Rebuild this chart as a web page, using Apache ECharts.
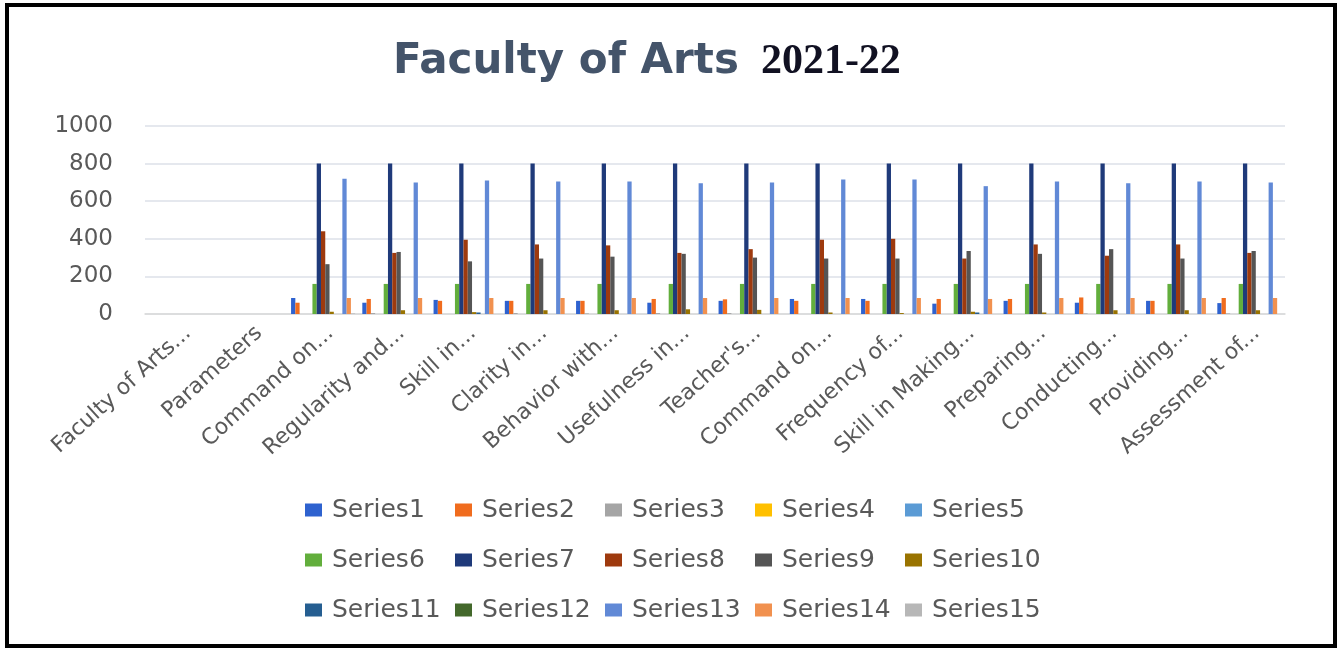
<!DOCTYPE html>
<html>
<head>
    <meta charset="utf-8">
    <title>Faculty of Arts 2021-22</title>
    <script src="https://cdn.jsdelivr.net/npm/echarts@6/dist/echarts.min.js"></script>
    <style>
        body { margin: 0; background: #fff; }
        #frame { position: absolute; left: 5px; top: 3px; width: 1324px; height: 637px; border: 4px solid #000; }
        #main { position: absolute; left: 0; top: 0; width: 1341px; height: 648px; }
    </style>
</head>
<body>
    <div id="frame"></div>
    <div id="main"></div>
    <script type="text/javascript">
// categories (truncated as in the source chart)
var categories = ['Faculty of Arts...', 'Parameters', 'Command on...', 'Regularity and...', 'Skill in...',
    'Clarity in...', 'Behavior with...', 'Usefulness in...', "Teacher's...", 'Command on...',
    'Frequency of...', 'Skill in Making...', 'Preparing...', 'Conducting...', 'Providing...', 'Assessment of...'];

var yTicks = [0, 200, 400, 600, 800, 1000];

// series values, one per category
var series1  = [0, 0, 85, 60, 75, 70, 70, 60, 70, 80, 80, 55, 70, 60, 70, 58];
var series2  = [0, 0, 60, 80, 70, 70, 70, 80, 78, 70, 70, 80, 80, 88, 70, 85];
var series3  = [0, 0, 0, 5, 0, 5, 3, 5, 5, 0, 0, 0, 0, 3, 0, 3];
var series4  = [0, 0, 0, 0, 0, 0, 0, 0, 0, 0, 0, 0, 0, 0, 0, 0];
var series5  = [0, 0, 0, 0, 0, 0, 0, 0, 0, 0, 0, 0, 0, 0, 0, 0];
var series6  = [0, 0, 160, 160, 160, 160, 160, 160, 160, 160, 160, 160, 160, 160, 160, 160];
var series7  = [0, 0, 800, 800, 800, 800, 800, 800, 800, 800, 800, 800, 800, 800, 800, 800];
var series8  = [0, 0, 440, 325, 395, 370, 365, 325, 345, 395, 400, 295, 370, 310, 370, 325];
var series9  = [0, 0, 265, 330, 280, 295, 305, 320, 300, 295, 295, 335, 320, 345, 295, 335];
var series10 = [0, 0, 12, 20, 10, 20, 20, 25, 22, 8, 5, 12, 8, 20, 20, 20];
var series11 = [0, 0, 0, 0, 8, 0, 0, 0, 0, 0, 0, 8, 0, 0, 0, 0];
var series12 = [0, 0, 0, 0, 0, 0, 0, 0, 0, 0, 0, 0, 0, 0, 0, 0];
var series13 = [0, 0, 720, 700, 710, 705, 705, 695, 700, 715, 715, 680, 705, 695, 705, 700];
var series14 = [0, 0, 85, 85, 85, 85, 85, 85, 85, 85, 85, 80, 85, 85, 85, 85];
var series15 = [0, 0, 3, 0, 0, 0, 0, 0, 0, 0, 0, 0, 0, 0, 0, 0];

var seriesNames = ['Series1', 'Series2', 'Series3', 'Series4', 'Series5', 'Series6', 'Series7', 'Series8',
    'Series9', 'Series10', 'Series11', 'Series12', 'Series13', 'Series14', 'Series15'];
var seriesValues = [series1, series2, series3, series4, series5, series6, series7, series8,
    series9, series10, series11, series12, series13, series14, series15];
var colors = ['#2E62CF', '#F06C1E', '#A5A5A5', '#FFC000', '#5B9BD5', '#62AE3C', '#1F3A7A', '#9E3A0E',
    '#555555', '#997300', '#255E91', '#43682B', '#6189D6', '#F1914F', '#B7B7B7'];

var myChart = echarts.init(document.getElementById('main'));

var font = 'DejaVu Sans';
var grey = '#595959';

function legendRow(names, top) {
    return {
        data: names,
        left: 305,
        top: top,
        padding: 0,
        orient: 'horizontal',
        icon: 'rect',
        itemWidth: 17,
        itemHeight: 13,
        itemGap: 0,
        textStyle: {
            fontFamily: font,
            fontSize: 25,
            color: grey,
            width: 123,
            lineHeight: 30,
            padding: [0, 0, 0, 5]
        }
    };
}

var series = [];
for (var i = 0; i < seriesNames.length; i++) {
    series.push({
        name: seriesNames[i],
        type: 'bar',
        data: seriesValues[i],
        barGap: '0%',
        barCategoryGap: '10%',
        itemStyle: { color: colors[i] }
    });
}

option = {
    animation: false,
    color: colors,
    title: {
        text: '{a|Faculty of Arts}{b|2021-22}',
        left: 388,
        top: 36,
        textStyle: {
            rich: {
                a: { fontFamily: font, fontWeight: 'bold', fontSize: 42, color: '#44546A', padding: [0, 22, 0, 0] },
                b: { fontFamily: 'Liberation Serif', fontWeight: 'bold', fontSize: 42, color: '#111122' }
            }
        }
    },
    legend: [
        legendRow(seriesNames.slice(0, 5), 495),
        legendRow(seriesNames.slice(5, 10), 545),
        legendRow(seriesNames.slice(10, 15), 595)
    ],
    grid: { left: 145, right: 56, top: 126, bottom: 334 },
    xAxis: {
        type: 'category',
        data: categories,
        axisTick: { show: false },
        axisLine: { lineStyle: { color: '#d9d9d9', width: 1.5 } },
        axisLabel: {
            interval: 0,
            rotate: 42,
            margin: 8,
            verticalAlign: 'top',
            fontFamily: font,
            fontSize: 22,
            color: grey
        }
    },
    yAxis: {
        type: 'value',
        min: yTicks[0],
        max: yTicks[yTicks.length - 1],
        interval: 200,
        axisLine: { show: false },
        axisTick: { show: false },
        splitLine: { lineStyle: { color: '#dde1e8', width: 1.5 } },
        axisLabel: {
            margin: 32,
            fontFamily: font,
            fontSize: 23,
            color: grey,
            formatter: function (value) {
                return String(value);
            }
        }
    },
    series: series
};

myChart.setOption(option);
    </script>
</body>
</html>
